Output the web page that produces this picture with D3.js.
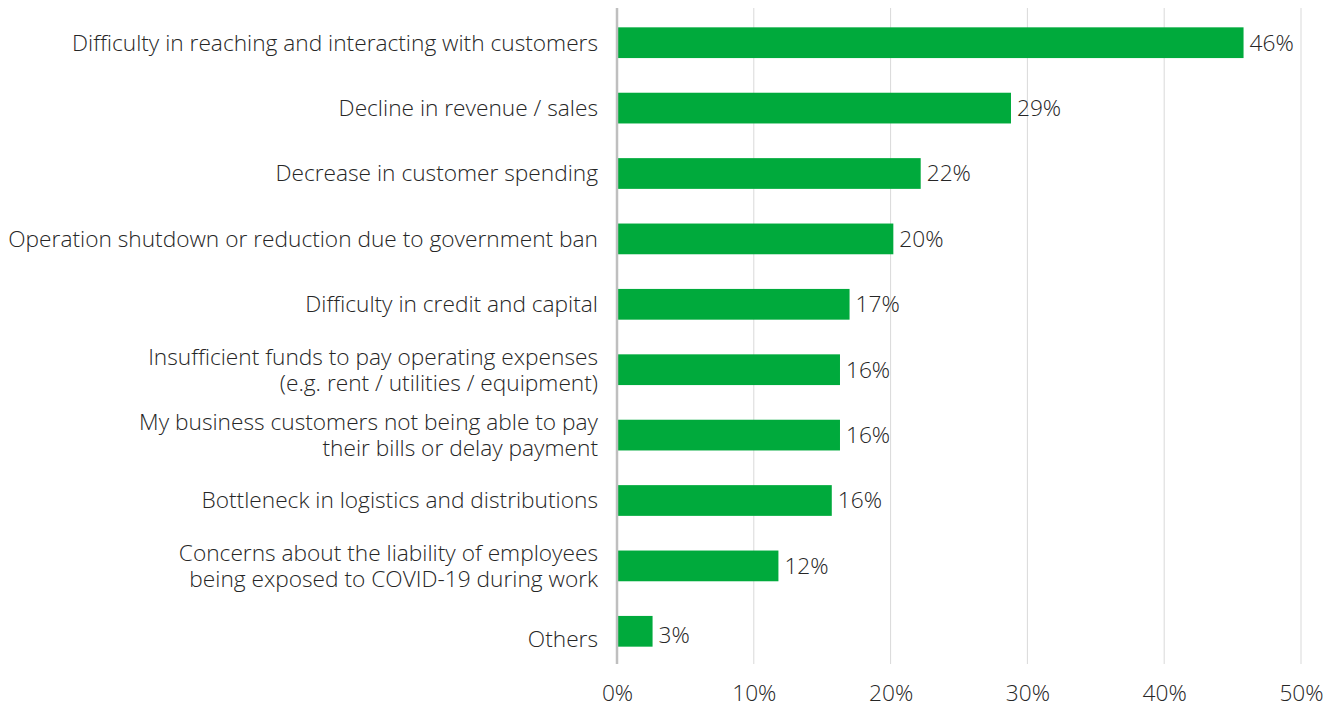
<!DOCTYPE html>
<html>
<head>
<meta charset="utf-8">
<script src="https://cdn.jsdelivr.net/npm/d3@7"></script>
<style>
  html, body { margin: 0; padding: 0; background: #fff; }
  svg { display: block; font-family: "Open Sans", sans-serif; font-weight: 300; }
</style>
</head>
<body>
<svg id="chart" width="1334" height="707"></svg>
<script>
// Challenges reported by businesses (share of respondents)
const categories = [
  ["Difficulty in reaching and interacting with customers"],
  ["Decline in revenue / sales"],
  ["Decrease in customer spending"],
  ["Operation shutdown or reduction due to government ban"],
  ["Difficulty in credit and capital"],
  ["Insufficient funds to pay operating expenses", "(e.g. rent / utilities / equipment)"],
  ["My business customers not being able to pay", "their bills or delay payment"],
  ["Bottleneck in logistics and distributions"],
  ["Concerns about the liability of employees", "being exposed to COVID-19 during work"],
  ["Others"]
];
const values = [0.458, 0.288, 0.222, 0.202, 0.170, 0.163, 0.163, 0.157, 0.118, 0.026];
const tickValues = [0, 0.1, 0.2, 0.3, 0.4, 0.5];

const textColor = "#262626";
const fontSize = 22.7;

const svg = d3.select("#chart");
const margin = { top: 10, left: 617, right: 33, bottom: 43 };
const width = 1334 - margin.left - margin.right;
const height = 707 - margin.top - margin.bottom;

const g = svg.append("g").attr("transform", `translate(${margin.left},${margin.top})`);

const x = d3.scaleLinear().domain([0, 0.5]).range([0, width]);
const y = d3.scaleBand().domain(d3.range(categories.length)).range([0, height]).paddingInner(0.53).paddingOuter(0.265);
const pct = d3.format(".0%");
const last = categories.length - 1;

// vertical gridlines
g.selectAll("line.grid")
  .data(tickValues.slice(1))
  .join("line")
  .attr("class", "grid")
  .attr("x1", d => x(d)).attr("x2", d => x(d))
  .attr("y1", -2).attr("y2", height)
  .attr("stroke", "#d9d9d9").attr("stroke-width", 1);

// x-axis tick labels
const xAxis = d3.axisBottom(x).tickValues(tickValues).tickFormat(pct).tickSize(0).tickPadding(21);
const xg = g.append("g").attr("transform", `translate(0,${height})`).call(xAxis);
xg.select(".domain").remove();
xg.selectAll("text").attr("font-family", "'Open Sans', sans-serif").attr("font-weight", 300)
  .attr("font-size", fontSize).attr("fill", textColor);

// bars
g.selectAll("rect.bar")
  .data(values)
  .join("rect")
  .attr("class", "bar")
  .attr("x", 0)
  .attr("y", (d, i) => y(i))
  .attr("width", d => x(d))
  .attr("height", y.bandwidth())
  .attr("fill", "#00aa3c");

// value labels
g.selectAll("text.val")
  .data(values)
  .join("text")
  .attr("class", "val")
  .attr("x", d => x(d) + 6)
  .attr("y", (d, i) => y(i) + y.bandwidth() / 2 + (i === last ? 4 : 0))
  .attr("dy", "0.35em")
  .attr("font-size", fontSize)
  .attr("fill", textColor)
  .text(d => pct(d));

// category labels (the last one sits a little below its bar)
const lab = g.selectAll("text.cat")
  .data(categories)
  .join("text")
  .attr("class", "cat")
  .attr("text-anchor", "end")
  .attr("font-size", fontSize)
  .attr("fill", textColor)
  .attr("x", -19)
  .attr("y", (d, i) => y(i) + y.bandwidth() / 2 + (i === last ? 8 : 0));
lab.selectAll("tspan")
  .data(d => d.map((t, k) => ({ t, k, n: d.length })))
  .join("tspan")
  .attr("x", -19)
  .attr("dy", d => d.k === 0 ? `${0.35 - (d.n - 1) * 0.57}em` : "1.14em")
  .text(d => d.t);

// y axis line
g.append("line")
  .attr("x1", 0).attr("x2", 0)
  .attr("y1", -2).attr("y2", height)
  .attr("stroke", "#bfbfbf").attr("stroke-width", 2.5);
</script>
</body>
</html>
